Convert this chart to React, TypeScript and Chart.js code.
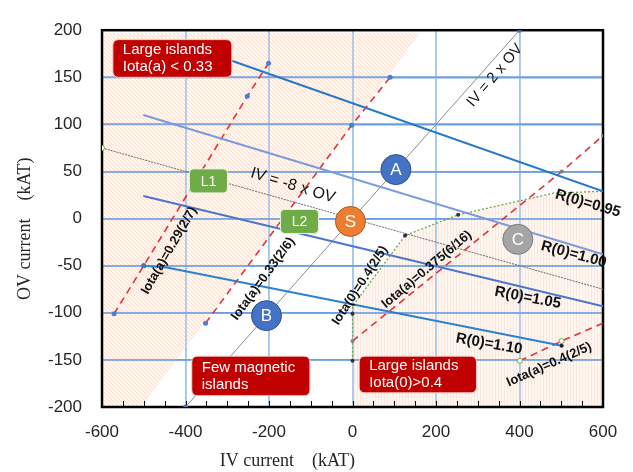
import React, { useEffect, useRef } from 'react';
import { Chart, registerables } from 'chart.js';

Chart.register(...registerables);

type Pt = { x: number; y: number };

// ---- axes ----
const xRange = [-600, 600];
const yRange = [-200, 200];
const xMajorStep = 200;
const yMajorStep = 50;
const xMinorStep = 50;
const xAxisTitle = 'IV current    (kAT)';
const yAxisTitle = 'OV current    (kAT)';

// ---- shaded regions ----
const regionLowIotaA: Pt[] = [
  { x: -600, y: -200 }, { x: -506, y: -200 }, { x: 162, y: 197 }, { x: -600, y: 197 },
];
const regionHighIota0: Pt[] = [
  { x: 0, y: -200 }, { x: 0, y: -93 }, { x: 126, y: -18 }, { x: 253, y: 4 },
  { x: 481, y: 27 }, { x: 600, y: 29 }, { x: 600, y: -200 },
];

// ---- reference lines ----
const ivTwiceOv: Pt[] = [{ x: -400, y: -200 }, { x: 400, y: 200 }];
const ivMinusEightOv: Pt[] = [{ x: -600, y: 75 }, { x: 600, y: -75 }];

// ---- R(0) contours ----
const r095: Pt[] = [{ x: -330, y: 174 }, { x: 600, y: 29 }];
const r100: Pt[] = [{ x: -501, y: 110 }, { x: 600, y: -38 }];
const r105: Pt[] = [{ x: -501, y: 24 }, { x: 600, y: -93 }];
const r110: Pt[] = [{ x: -500, y: -50 }, { x: -445, y: -52 }, { x: 501, y: -135 }];

// ---- iota contours ----
const iotaA029: Pt[] = [{ x: -571, y: -101 }, { x: -500, y: -50 }, { x: -252, y: 130 }, { x: -201, y: 165 }];
const iotaA033: Pt[] = [{ x: -352, y: -111 }, { x: -2, y: 99 }, { x: 90, y: 150 }];
const iotaA0375: Pt[] = [{ x: 0, y: -130 }, { x: 501, y: 50 }, { x: 600, y: 88 }];
const iotaA040: Pt[] = [{ x: 401, y: -151 }, { x: 501, y: -130 }, { x: 600, y: -111 }];
const iota0040: Pt[] = [
  { x: 0, y: -151 }, { x: 0, y: -101 }, { x: 0, y: -93 }, { x: 126, y: -18 },
  { x: 253, y: 4 }, { x: 481, y: 27 }, { x: 600, y: 29 },
];

// ---- operating points ----
const pointNames = ['A', 'S', 'B', 'C'];
const pointIV = [104, -5, -206, 396];
const pointOV = [52, -3, -103, -22];

// ---- configuration tags ----
const configNames = ['L1', 'L2'];
const configIV = [-345, -127];
const configOV = [40, -3];

// ---- curve labels ----
const curveLabels = [
  'IV = 2 x OV', 'IV = -8 x OV', 'R(0)=0.95', 'R(0)=1.00', 'R(0)=1.05', 'R(0)=1.10',
  'Iota(a)=0.29(2/7)', 'Iota(a)=0.33(2/6)', 'Iota(0)=0.4(2/5)', 'Iota(a)=0.375(6/16)', 'Iota(a)=0.4(2/5)',
];
const curveLabelIV = [341, -143, 564, 530, 420, 327, -439, -214, 18, 178, 471];
const curveLabelOV = [152, 35, 16, -38, -84, -133, -34, -64, -71, -54, -155];

// ---- region notes ----
const noteLines = [['Large islands', 'Iota(a) < 0.33'], ['Few magnetic', 'islands'], ['Large islands', 'Iota(0)>0.4']];
const noteIV = [[-574, -289], [-385, -102], [16, 297]];
const noteOV = [[190, 150], [-146, -188], [-146, -185]];

// ---- styles (not data) ----
const labelStyle = [
  { rot: -49.5, font: '15px "Liberation Sans"' },
  { rot: 17, font: '16px "Liberation Sans"' },
  { rot: 16, font: 'bold 15px "Liberation Sans"' },
  { rot: 15, font: 'bold 15px "Liberation Sans"' },
  { rot: 11, font: 'bold 15px "Liberation Sans"' },
  { rot: 10, font: 'bold 15px "Liberation Sans"' },
  { rot: -60, font: 'bold 13px "Liberation Sans"' },
  { rot: -54, font: 'bold 13px "Liberation Sans"' },
  { rot: -57, font: 'bold 13px "Liberation Sans"' },
  { rot: -40, font: 'bold 13px "Liberation Sans"' },
  { rot: -24, font: 'bold 13px "Liberation Sans"' },
];
const pointFill = ['#4472c4', '#ed7d31', '#4472c4', '#a5a5a5'];
const pointEdge = ['#2f528f', '#ae5a21', '#2f528f', '#7b7b7b'];
const xGridColor = '#a3c6ee';
const yGridColor = '#6c9fe0';

function hatch(kind: 'diag' | 'vert'): CanvasPattern | string {
  const c = document.createElement('canvas');
  const w = kind === 'diag' ? 4 : 3;
  c.width = w; c.height = 4;
  const g = c.getContext('2d');
  if (!g) return '#fbe5d6';
  g.fillStyle = 'rgba(252,238,230,0.55)';
  g.fillRect(0, 0, w, 4);
  g.fillStyle = kind === 'diag' ? 'rgba(244,188,155,0.4)' : 'rgba(244,195,165,0.3)';
  if (kind === 'diag') {
    for (let i = 0; i < 4; i++) g.fillRect(i, i, 1, 1);
  } else {
    g.fillRect(0, 0, 1, 4);
  }
  return g.createPattern(c, 'repeat') || '#fbe5d6';
}

function roundRect(ctx: CanvasRenderingContext2D, x: number, y: number, w: number, h: number, r: number) {
  ctx.beginPath();
  ctx.moveTo(x + r, y);
  ctx.lineTo(x + w - r, y);
  ctx.quadraticCurveTo(x + w, y, x + w, y + r);
  ctx.lineTo(x + w, y + h - r);
  ctx.quadraticCurveTo(x + w, y + h, x + w - r, y + h);
  ctx.lineTo(x + r, y + h);
  ctx.quadraticCurveTo(x, y + h, x, y + h - r);
  ctx.lineTo(x, y + r);
  ctx.quadraticCurveTo(x, y, x + r, y);
  ctx.closePath();
}

const overlay = {
  id: 'overlay',
  afterDatasetDraw(chart: any, args: any) {
    if (args.index !== 1) return;
    const { ctx, chartArea: a, scales } = chart;
    const x = scales.x, y = scales.y;
    ctx.save();
    ctx.lineWidth = 1.5;
    ctx.strokeStyle = xGridColor;
    x.ticks.forEach((t: any) => {
      const px = Math.round(x.getPixelForValue(t.value));
      ctx.beginPath(); ctx.moveTo(px, a.top); ctx.lineTo(px, a.bottom); ctx.stroke();
    });
    ctx.strokeStyle = yGridColor;
    y.ticks.forEach((t: any) => {
      const py = Math.round(y.getPixelForValue(t.value));
      ctx.beginPath(); ctx.moveTo(a.left, py); ctx.lineTo(a.right, py); ctx.stroke();
    });
    ctx.strokeStyle = '#000';
    ctx.lineWidth = 1;
    for (let v = xRange[0]; v <= xRange[1]; v += xMinorStep) {
      const px = Math.round(x.getPixelForValue(v)) + 0.5;
      ctx.beginPath();
      ctx.moveTo(px, a.bottom);
      ctx.lineTo(px, a.bottom - 6);
      ctx.stroke();
    }
    ctx.lineWidth = 2.5;
    ctx.strokeRect(a.left, a.top, a.right - a.left, a.bottom - a.top);
    ctx.restore();
  },
  afterDatasetsDraw(chart: any) {
    const { ctx, scales } = chart;
    const x = scales.x, y = scales.y;
    ctx.save();
    ctx.fillStyle = '#111';
    ctx.textAlign = 'center';
    ctx.textBaseline = 'middle';
    curveLabels.forEach((t, i) => {
      const px = x.getPixelForValue(curveLabelIV[i]);
      const py = y.getPixelForValue(curveLabelOV[i]);
      ctx.save();
      ctx.translate(px, py);
      ctx.rotate((labelStyle[i].rot * Math.PI) / 180);
      ctx.font = labelStyle[i].font;
      ctx.fillText(t, 0, 0);
      ctx.restore();
    });
    ctx.fillStyle = '#fff';
    ctx.font = '17px "Liberation Sans"';
    pointNames.forEach((t, i) => {
      ctx.fillText(t, x.getPixelForValue(pointIV[i]), y.getPixelForValue(pointOV[i]) + 1);
    });
    configNames.forEach((t, i) => {
      const cx = x.getPixelForValue(configIV[i]);
      const cy = y.getPixelForValue(configOV[i]);
      roundRect(ctx, cx - 19, cy - 12, 38, 24, 4);
      ctx.fillStyle = '#6fab46';
      ctx.fill();
      ctx.strokeStyle = '#e8f2e0';
      ctx.lineWidth = 1;
      ctx.stroke();
      ctx.fillStyle = '#fff';
      ctx.font = '14px "Liberation Sans"';
      ctx.fillText(t, cx, cy + 1);
    });
    noteLines.forEach((lines, i) => {
      const x0 = x.getPixelForValue(noteIV[i][0]);
      const x1 = x.getPixelForValue(noteIV[i][1]);
      const y0 = y.getPixelForValue(noteOV[i][0]);
      const y1 = y.getPixelForValue(noteOV[i][1]);
      roundRect(ctx, x0, y0, x1 - x0, y1 - y0, 6);
      ctx.fillStyle = '#c00000';
      ctx.fill();
      ctx.strokeStyle = '#f4d0d0';
      ctx.lineWidth = 1;
      ctx.stroke();
      ctx.fillStyle = '#fff';
      ctx.font = '15px "Liberation Sans"';
      ctx.textAlign = 'left';
      const mid = (y0 + y1) / 2;
      ctx.fillText(lines[0], x0 + 10, mid - 8.5);
      ctx.fillText(lines[1], x0 + 10, mid + 8.5);
      ctx.textAlign = 'center';
    });
    ctx.restore();
  },
  afterDraw(chart: any) {
    const { ctx, chartArea: a } = chart;
    ctx.save();
    ctx.fillStyle = '#262626';
    ctx.font = '18px "Liberation Serif"';
    ctx.textAlign = 'center';
    ctx.textBaseline = 'middle';
    ctx.fillText(xAxisTitle, a.left + (a.right - a.left) * 0.37, a.bottom + 54);
    ctx.translate(a.left - 77, a.top + (a.bottom - a.top) * 0.527);
    ctx.rotate(-Math.PI / 2);
    ctx.fillText(yAxisTitle, 0, 0);
    ctx.restore();
  },
};

function lineSet(data: Pt[], color: string, width: number, dash: number[], order: number, extra: any = {}) {
  return {
    type: 'line',
    data,
    borderColor: color,
    borderWidth: width,
    borderDash: dash,
    pointRadius: 0,
    fill: false,
    tension: 0,
    order,
    ...extra,
  };
}

export default function App() {
  const ref = useRef<HTMLCanvasElement | null>(null);
  useEffect(() => {
    document.body.style.margin = '0';
    if (!ref.current) return;
    const tickFont = { family: '"Liberation Sans"', size: 17 };
    const chart = new Chart(ref.current, {
      type: 'line',
      data: {
        datasets: [
          lineSet(regionLowIotaA, 'rgba(0,0,0,0)', 0, [], 21, { fill: 'shape', backgroundColor: hatch('diag') }),
          lineSet(regionHighIota0, 'rgba(0,0,0,0)', 0, [], 20, { fill: 'shape', backgroundColor: hatch('vert') }),
          lineSet(ivTwiceOv, '#8c8c8c', 1, [], 8, { pointRadius: 2.5, pointBackgroundColor: '#4472c4', pointBorderWidth: 0 }),
          lineSet(ivMinusEightOv, '#6e6e6e', 1, [2, 1], 8, {
            pointRadius: [2.5, 0], pointBackgroundColor: '#fff', pointBorderColor: '#70ad47', pointBorderWidth: 1,
          }),
          lineSet(r095, '#2479c9', 2, [], 6),
          lineSet(r100, '#7a9be0', 2, [], 6),
          lineSet(r105, '#4a76cc', 2, [], 6),
          lineSet(r110, '#2b82d0', 2, [], 6, {
            pointRadius: [3, 0, 2], pointBackgroundColor: ['#4472c4', '#4472c4', '#222'], pointBorderWidth: 0, pointStyle: ['rect', 'circle', 'circle'],
          }),
          lineSet(iotaA029, '#e3333b', 1.6, [7, 5], 7, { pointRadius: 2.5, pointBackgroundColor: '#4a7ed4', pointBorderWidth: 0 }),
          lineSet(iotaA033, '#e3333b', 1.6, [7, 5], 7, { pointRadius: 2.5, pointBackgroundColor: '#4a7ed4', pointBorderWidth: 0 }),
          lineSet(iotaA0375, '#e3333b', 1.6, [7, 5], 7, { pointRadius: 2, pointBackgroundColor: '#7f7f7f', pointBorderWidth: 0 }),
          lineSet(iotaA040, '#e3333b', 1.6, [7, 5], 7, {
            pointRadius: [2.5, 2.5, 0], pointBackgroundColor: '#fff', pointBorderColor: '#70ad47', pointBorderWidth: 1,
          }),
          lineSet(iota0040, '#6aa84f', 1.3, [2, 2], 7, {
            pointRadius: [2, 2, 0, 2, 2, 0, 0], pointBackgroundColor: '#333', pointBorderWidth: 0,
          }),
          {
            type: 'line',
            data: pointIV.map((v, i) => ({ x: v, y: pointOV[i] })),
            showLine: false,
            pointRadius: 15,
            pointHoverRadius: 15,
            pointBackgroundColor: pointFill,
            pointBorderColor: pointEdge,
            pointBorderWidth: 1,
            order: 1,
          },
        ] as any,
      },
      options: {
        responsive: false,
        animation: false,
        events: [],
        layout: { padding: { top: 16, right: 30, left: 0, bottom: 0 } },
        plugins: { legend: { display: false }, tooltip: { enabled: false } },
        scales: {
          x: {
            type: 'linear',
            min: xRange[0],
            max: xRange[1],
            ticks: { stepSize: xMajorStep, font: tickFont, color: '#262626', padding: 15 },
            grid: { color: xGridColor, lineWidth: 1.5, drawTicks: false },
            border: { display: false },
            afterFit: (s: any) => { s.height = 65; },
          },
          y: {
            type: 'linear',
            min: yRange[0],
            max: yRange[1],
            ticks: { stepSize: yMajorStep, font: tickFont, color: '#262626', padding: 20 },
            grid: { color: yGridColor, lineWidth: 1.5, drawTicks: false },
            border: { display: false },
            afterFit: (s: any) => { s.width = 102; },
          },
        },
      } as any,
      plugins: [overlay],
    });
    return () => chart.destroy();
  }, []);
  return (
    <div style={{ width: 633, height: 472, position: 'relative' }}>
      <canvas ref={ref} width={633} height={472} />
    </div>
  );
}
